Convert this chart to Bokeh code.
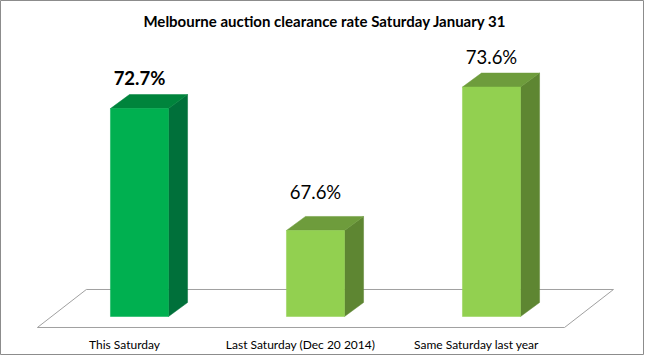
from bokeh.plotting import figure
from bokeh.models import Range1d, Label, ColumnDataSource
from bokeh.core.properties import value
from bokeh.embed import file_html
from bokeh.resources import INLINE

# ---- data ----
categories = ["This Saturday", "Last Saturday (Dec 20 2014)", "Same Saturday last year"]
rates = [72.7, 67.6, 73.6]
rate_labels = ["72.7%", "67.6%", "73.6%"]
axis_min = 64.0
title_text = "Melbourne auction clearance rate Saturday January 31"

# ---- style ----
front_colors = ["#00B050", "#92D050", "#92D050"]
top_colors = ["#00843C", "#6E9C3C", "#6E9C3C"]
side_colors = ["#00703A", "#5E8632", "#5E8632"]
label_bold = ["bold", "normal", "normal"]
label_gap = [1.26, 1.59, 1.26]   # value units above front top
FONT = "Lato"

bar_w = 0.33
dx, dy = 0.108, 0.586           # bar depth offset (x units, value units)
floor_front_y, floor_back_y = 63.54, 65.13
floor_left, floor_right, floor_dx = -0.58, 2.415, 0.278

W, H = 644, 355
p = figure(width=W, height=H, output_backend="svg", toolbar_location=None,
           x_range=Range1d(-0.78977, 2.86932), y_range=Range1d(62.3682, 77.2218),
           x_axis_location=None, y_axis_location=None, min_border=0,
           background_fill_color="white", border_fill_color="white")
p.grid.visible = False
p.outline_line_color = "#8C8C8C"
p.outline_line_width = 1

# floor
p.patch([floor_left, floor_right, floor_right + floor_dx, floor_left + floor_dx],
        [floor_front_y, floor_front_y, floor_back_y, floor_back_y],
        fill_color="white", line_color="#A0A0A0", line_width=1)

xs = list(range(len(categories)))
front_x, front_y, top_x, top_y, side_x, side_y = [], [], [], [], [], []
for i, v in zip(xs, rates):
    l, r = i - bar_w / 2, i + bar_w / 2
    front_x.append([l, r, r, l]); front_y.append([axis_min, axis_min, v, v])
    top_x.append([l, r, r + dx, l + dx]); top_y.append([v, v, v + dy, v + dy])
    side_x.append([r, r + dx, r + dx, r]); side_y.append([axis_min, axis_min + dy, v + dy, v])

p.patches(side_x, side_y, fill_color=side_colors, line_color=side_colors, line_width=0.5)
p.patches(top_x, top_y, fill_color=top_colors, line_color=top_colors, line_width=0.5)
p.patches(front_x, front_y, fill_color=front_colors, line_color=front_colors, line_width=0.5)

lab_src = ColumnDataSource(dict(x=xs, y=[v + g for v, g in zip(rates, label_gap)],
                                text=rate_labels, style=label_bold))
p.text(x="x", y="y", text="text", source=lab_src, text_font=value(FONT),
       text_font_size="18.5px", text_font_style="style", text_align="center",
       text_baseline="middle", text_color="black")

cat_src = ColumnDataSource(dict(x=[i - 0.085 for i in xs], y=[62.83] * len(xs), text=categories))
p.text(x="x", y="y", text="text", source=cat_src, text_font=value(FONT),
       text_font_size="12px", text_align="center", text_baseline="middle",
       text_color="black")

p.add_layout(Label(x=324.5, y=H - 20, x_units="screen", y_units="screen",
                   text=title_text, text_font=FONT, text_font_size="15px",
                   text_font_style="bold", text_align="center",
                   text_baseline="middle", text_color="black"))

open("out.html", "w").write(file_html(p, INLINE))
